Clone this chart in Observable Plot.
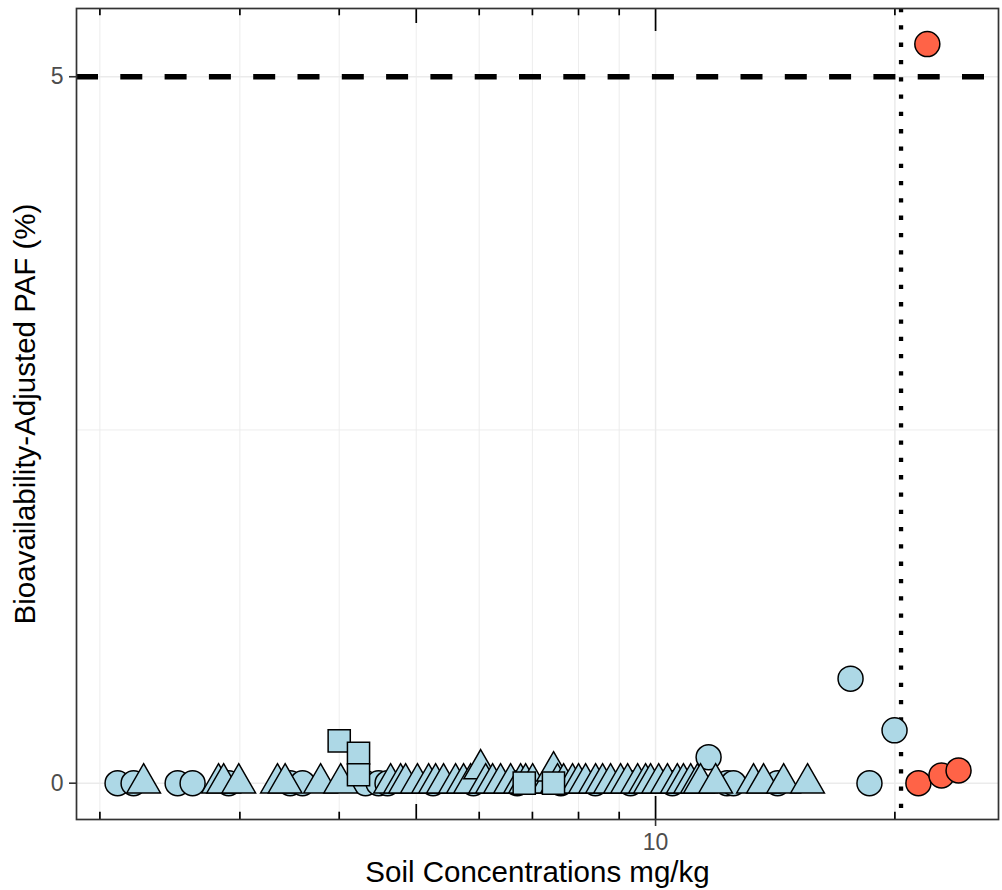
<!DOCTYPE html>
<html><head><meta charset="utf-8">
<script src="https://cdn.jsdelivr.net/npm/d3@7"></script>
<script src="https://cdn.jsdelivr.net/npm/@observablehq/plot@0.6"></script>
<style>body{margin:0;background:#fff}#chart{width:1002px;height:890px}</style>
</head><body><div id="chart"></div>
<script>
// ---- data (soil concentration mg/kg, bioavailability-adjusted PAF %) ----
const circleConc = [2.105, 2.205, 2.505, 2.616, 2.904, 3.47, 3.597, 4.317, 4.483, 4.601, 5.25, 5.9, 6.7, 7.6, 8.4, 9.3, 10.5, 11.66, 12.3, 12.53, 14.24, 17.59, 18.58, 19.98];
const circlePAF  = [0, 0, 0, 0, 0, 0, 0, 0, 0, 0, 0, 0, 0, 0, 0, 0, 0, 0.184, 0, 0, 0, 0.74, 0, 0.374];

const triangleConc = [2.27, 2.82, 2.862, 2.99, 3.345, 3.42, 3.79, 4.017, 4.642, 4.778, 4.848, 5.017, 5.182, 5.288, 5.411, 5.603, 5.734, 5.852, 6.025, 6.113, 6.237, 6.383, 6.571, 6.764, 6.863, 7.004, 7.335, 7.442, 7.528, 7.661, 7.862, 8.0, 8.165, 8.405, 8.577, 8.778, 9.036, 9.222, 9.493, 9.714, 9.856, 10.09, 10.35, 10.65, 10.84, 11.07, 11.29, 11.39, 11.9, 13.28, 13.67, 14.49, 15.53];
const trianglePAF  = [0, 0, 0, 0, 0, 0, 0, 0, 0, 0, 0, 0, 0, 0, 0, 0, 0, 0, 0.1, 0, 0, 0, 0, 0, 0, 0, 0, 0.085, 0, 0, 0, 0, 0, 0, 0, 0, 0, 0, 0, 0, 0, 0, 0, 0, 0, 0, 0, 0, 0, 0, 0, 0, 0];

const squareConc = [4.0, 4.23, 4.23, 6.836, 7.44];
const squarePAF  = [0.30, 0.212, 0.06, 0, 0];

const exceedConc = [21.41, 21.97, 22.89, 24.05];
const exceedPAF  = [0, 5.231, 0.055, 0.09];

const pafThreshold = [5];
const concThreshold = [20.36];

const xTickValues = [10];
const yTickValues = [0, 5];
const xMajorGrid = [10, 20];
const xMinorGrid = [2, 3, 4, 5, 6, 7, 8, 9];
const yMajorGrid = [0, 5];
const yMinorGrid = [2.5];
const logShort = [2, 3, 4, 6, 7, 8, 9, 20];
const logMid = [5];
const logLong = [10];

const xTitle = "Soil Concentrations mg/kg";
const yTitle = "Bioavailability-Adjusted PAF (%)";

// ---- tables ----
const toRows = (xs, ys) => xs.map((x, i) => ({conc: x, paf: ys[i]}));
const circles = toRows(circleConc, circlePAF);
const triangles = toRows(triangleConc, trianglePAF);
const squares = toRows(squareConc, squarePAF);
const exceed = toRows(exceedConc, exceedPAF);

const W = 1002, H = 890, mL = 76, mR = 4, mT = 8, mB = 71;
const frameH = H - mT - mB;
const tickW = 1.7;
const logTicks = (vals, len) => [
  Plot.ruleX(vals, {stroke: "black", strokeWidth: tickW, insetBottom: frameH - len}),
  Plot.ruleX(vals, {stroke: "black", strokeWidth: tickW, insetTop: frameH - len})
];
const dotOpts = (symbol, fill) => ({x: "conc", y: "paf", symbol, r: 12.5, fill, stroke: "black", strokeWidth: 1.5});

const chart = Plot.plot({
  width: W, height: H,
  marginLeft: mL, marginRight: mR, marginTop: mT, marginBottom: mB,
  style: {fontFamily: "'Liberation Sans', Arial, Helvetica, sans-serif", background: "#fff"},
  x: {type: "log", domain: [1.869, 27.0]},
  y: {domain: [-0.257, 5.483]},
  marks: [
    Plot.ruleX(xMinorGrid, {stroke: "#EBEBEB", strokeWidth: 0.9}),
    Plot.ruleY(yMinorGrid, {stroke: "#EBEBEB", strokeWidth: 0.9}),
    Plot.ruleX(xMajorGrid, {stroke: "#EBEBEB", strokeWidth: 1.5}),
    Plot.ruleY(yMajorGrid, {stroke: "#EBEBEB", strokeWidth: 1.5}),
    Plot.ruleY(pafThreshold, {stroke: "black", strokeWidth: 5.5, strokeDasharray: "22,22.3"}),
    Plot.ruleX(concThreshold, {stroke: "black", strokeWidth: 4.3, strokeDasharray: "4.3,13"}),
    ...logTicks(logShort, 7.3),
    ...logTicks(logMid, 15),
    ...logTicks(logLong, 23),
    Plot.dot(circles, dotOpts("circle", "#ADD8E6")),
    Plot.dot(triangles, dotOpts("triangle", "#ADD8E6")),
    Plot.dot(squares, dotOpts("square", "#ADD8E6")),
    Plot.dot(exceed, dotOpts("circle", "#FF6347")),
    Plot.frame({stroke: "#333333", strokeWidth: 1.7}),
    Plot.axisX(xTickValues, {tickSize: 7, tickPadding: 7, fontSize: 23, stroke: "#333333", fill: "#4D4D4D", strokeWidth: 1.6, label: null, tickFormat: d => String(d)}),
    Plot.axisY(yTickValues, {tickSize: 7, tickPadding: 6, fontSize: 23, stroke: "#333333", fill: "#4D4D4D", strokeWidth: 1.6, label: null, tickFormat: d => String(d)}),
    Plot.text([xTitle], {text: d => d, frameAnchor: "bottom", textAnchor: "middle", lineAnchor: "middle", dy: 53, fontSize: 29.5, fill: "black"}),
    Plot.text([yTitle], {text: d => d, frameAnchor: "left", textAnchor: "middle", lineAnchor: "middle", rotate: -90, dx: -51, fontSize: 29.5, fill: "black"})
  ]
});
document.getElementById("chart").appendChild(chart);
</script>
</body></html>
